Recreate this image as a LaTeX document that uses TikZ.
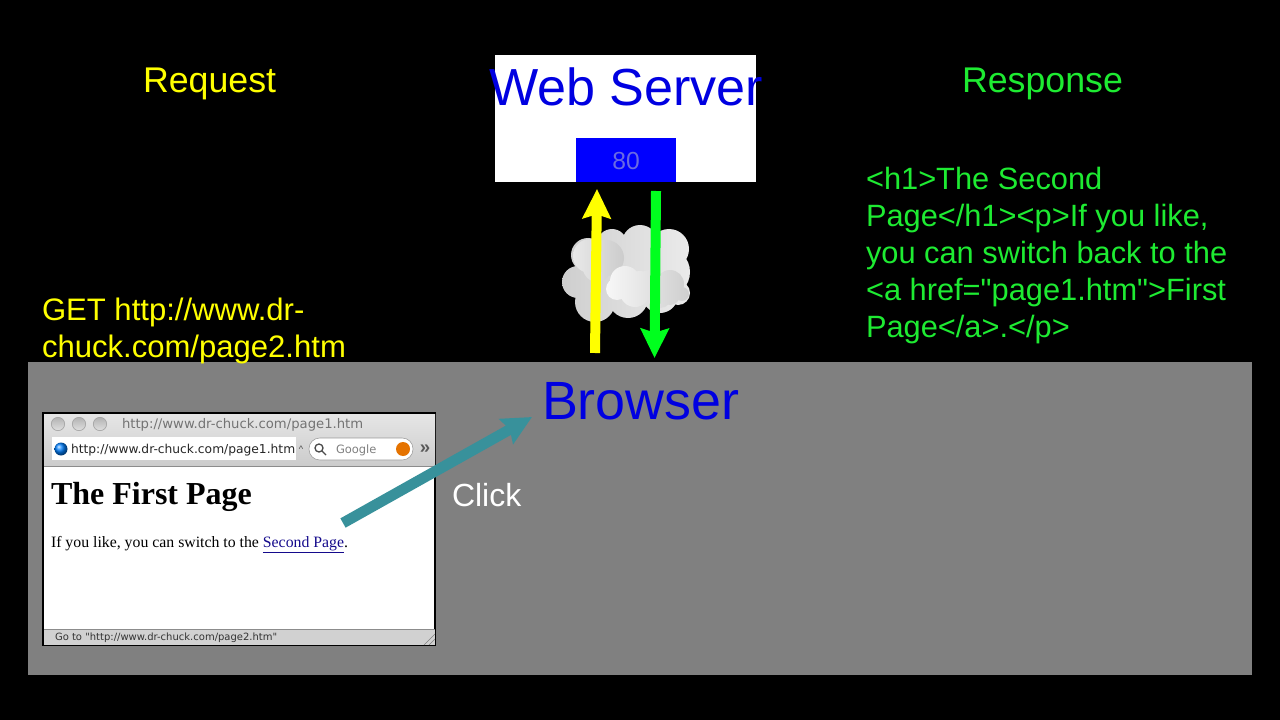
\documentclass[tikz,border=0pt]{standalone}
\usepackage{fontspec}
\setmainfont{Liberation Sans}
\newfontfamily\plainfont{Liberation Sans}
\newfontfamily\pagefont{Liberation Serif}
\newfontfamily\chromefont{DejaVu Sans}
\usetikzlibrary{arrows.meta}
\definecolor{serverblue}{RGB}{0,0,225}
\definecolor{portgrey}{RGB}{106,106,226}
\definecolor{reqyellow}{RGB}{255,255,0}
\definecolor{respgreen}{RGB}{0,255,30}
\definecolor{texgreen}{RGB}{30,235,50}
\definecolor{clickteal}{RGB}{56,145,155}
\definecolor{linkblue}{RGB}{20,10,140}
\tikzset{
  every node/.style={inner sep=0pt, outer sep=0pt},
  bigarrow/.style={line width=7.5pt, -{Stealth[length=22pt, width=21pt, inset=3pt]}},
  label/.style={anchor=base west},
  puff/.style={draw=none},
  lamp/.style={circle, minimum size=10pt, draw=black!35, line width=.5pt, top color=black!30, bottom color=black!12},
  chrome/.style={anchor=base west, text=black!70, font=\chromefont\fontsize{8.6}{10}\selectfont},
}
\begin{document}
\begin{tikzpicture}
    [x=.75pt, y=-.75pt]
    \useasboundingbox (0,0) rectangle (1280,720);
    \fill[black] (0,0) rectangle (1280,720);
    \fill[black!50] (28,362) rectangle (1252,675);

    % server
    \node (server) [fill=white, minimum width=195.75pt, minimum height=95.25pt, anchor=north west] at (495,55) {};
    \node (port) [fill=blue, minimum width=75pt, minimum height=33pt, anchor=south] at (626,182) {};
    \node (servername) [label, text=serverblue, font=\fontsize{39.1}{44}\selectfont] at (489,106) {Web Server};
    \node (portnum) [anchor=base, text=portgrey, font=\fontsize{18.5}{22}\selectfont] at (626,170) {80};

    % headings and messages
    \node (request) [label, text=reqyellow, font=\fontsize{26.8}{30}\selectfont] at (143,93) {Request};
    \node (response) [label, text=texgreen, font=\fontsize{26.8}{30}\selectfont] at (962,93) {Response};
    \node (get) [anchor=north west, align=left, text=reqyellow, font=\fontsize{23.3}{27.75}\selectfont] at (42,298)
      {GET http://www.dr-\\chuck.com/page2.htm};
    \node (html) [anchor=north west, align=left, text=texgreen, font=\plainfont\fontsize{23.1}{27.75}\selectfont] at (866,167)
      {<h1>The Second\\Page</h1><p>If you like,\\you can switch back to the\\<a href="page1.htm">First\\Page</a>.</p>};
    \node (browser) [label, text=serverblue, font=\fontsize{40.4}{46}\selectfont] at (542,419) {Browser};
    \node (click) [label, text=white, font=\fontsize{24}{28}\selectfont] at (452,506) {Click};

    % cloud
    \shade[puff, left color=black!19, right color=black!8]
      (588,255) circle (17) (612,244) circle (15) (640,243) circle (18) (669,249) circle (20)
      (578,282) circle (16) (595,302) circle (20) (628,298) circle (20) (660,295) circle (18)
      (678,293) circle (12) (632,270) circle (32) (600,275) circle (25) (665,272) circle (25);
    \shade[puff, left color=black!9, right color=black!20]
      (590,256) circle (17) (606,258) circle (18) (612,266) circle (10) (597,268) circle (14);
    \shade[puff, left color=black!3, right color=black!19]
      (625,281) circle (15) (617,289) circle (11) (635,292) circle (15) (650,285) circle (15)
      (640,285) circle (14) (670,284) circle (14) (682,294) circle (7) (660,296) circle (12) (670,295) circle (10);

    % browser window
    \node (window) [draw=black, line width=1.8pt, fill=white, minimum width=294pt, minimum height=174pt, anchor=north west] at (43,413) {};
    \shade[top color=black!10, bottom color=black!20] (44,414) rectangle (435,466);
    \draw[black!45, line width=.6pt] (44,466) -- (435,466);
    \fill[black!18] (44,630) rectangle (435,645);
    \draw[black!45, line width=.6pt] (44,629) -- (435,629);
    \node (lampa) [lamp] at (58,424) {};
    \node (lampb) [lamp] at (79,424) {};
    \node (lampc) [lamp] at (100,424) {};
    \node (titletext) [chrome, text=black!55, font=\chromefont\fontsize{9.9}{11}\selectfont] at (122,428) {http://www.dr-chuck.com/page1.htm};
    \fill[white] (52,437) rectangle (296,460);
    \shade[ball color=blue!50!cyan] (61,449) circle (6.5);
    \node (urltext) [chrome, text=black!85, font=\chromefont\fontsize{9.2}{11}\selectfont] at (71,453) {http://www.dr-chuck.com/page1.htm};
    \node (caret) [anchor=center, text=black!70, font=\fontsize{7}{8}\selectfont] at (301,449) {\textasciicircum};
    \fill[white, draw=black!40, line width=.4pt, rounded corners=8pt] (309,438) rectangle (413,460);
    \draw[black!70, line width=1pt] (319,448) circle (4) (322,451) -- (326,455);
    \node (google) [chrome, text=black!50] at (336,453) {Google};
    \fill[orange!90!black] (403,449) circle (7);
    \node (more) [anchor=center, text=black!65, font=\bfseries\fontsize{14}{14}\selectfont] at (425,449) {»};
    \node (pagehead) [anchor=base west, font=\pagefont\bfseries\fontsize{24}{28}\selectfont] at (51,504) {The First Page};
    \node (pagebody) [anchor=base west, font=\pagefont\fontsize{11.85}{14}\selectfont] at (51,547) {If you like, you can switch to the \textcolor{linkblue}{\underline{Second Page}}.};
    \node (statustext) [chrome, text=black!80, font=\chromefont\fontsize{7.5}{9}\selectfont] at (55,640) {Go to "http://www.dr-chuck.com/page2.htm"};
    \draw[black!50, line width=.5pt] (424,645) -- (435,634) (429,645) -- (435,639);

    % arrows
    \coordinate (reqstart) at (595,353);
    \coordinate (reqend) at (597,189);
    \coordinate (respstart) at (656,191);
    \coordinate (respend) at (654.5,358);
    \coordinate (clickstart) at (343,523);
    \coordinate (clickend) at (532,417);
    \draw[bigarrow, reqyellow] (reqstart) -- (reqend);
    \draw[bigarrow, respgreen] (respstart) -- (respend);
    \draw[bigarrow, clickteal, line width=8pt] (clickstart) -- (clickend);
\end{tikzpicture}
\end{document}
